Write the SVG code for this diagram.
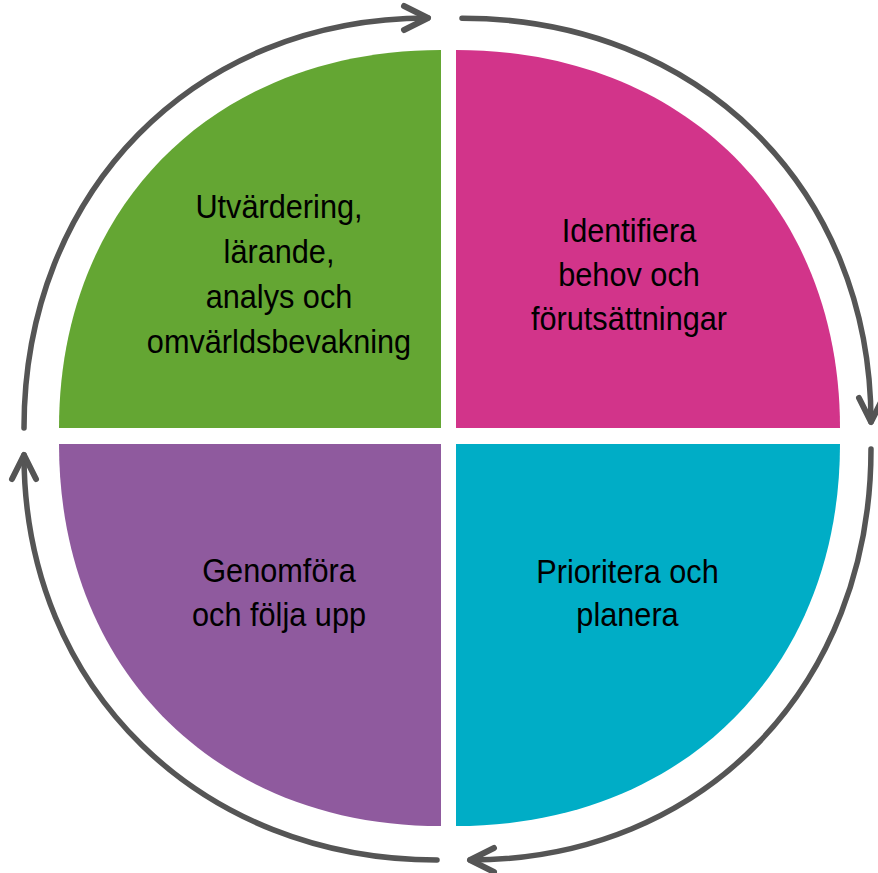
<svg xmlns="http://www.w3.org/2000/svg" width="878" height="873" viewBox="0 0 878 873">
<style>
.lbl{font-family:"Liberation Sans",Arial,sans-serif;font-size:33px;fill:#000;text-anchor:middle}
.arc{fill:none;stroke:#555555;stroke-width:5.5;stroke-linecap:round;stroke-linejoin:round}
</style>
<defs>
<marker id="head" markerUnits="userSpaceOnUse" markerWidth="60" markerHeight="60" viewBox="-30 -30 60 60" refX="0" refY="0" orient="auto" overflow="visible">
<path d="M-24,-12 L0,0 L-24,12" fill="none" stroke="#555555" stroke-width="6" stroke-linecap="round" stroke-linejoin="round"/>
</marker>
</defs>
<rect width="878" height="873" fill="#fff"/>
<g id="q-green">
<path d="M441,428 L59,428 C59,205 216,50 441,50 Z" fill="#64A633"/>
<text class="lbl" transform="translate(279 0) scale(0.93 1)"><tspan x="0" y="218">Utvärdering,</tspan><tspan x="0" y="263">lärande,</tspan><tspan x="0" y="308">analys och</tspan><tspan x="0" y="353">omvärldsbevakning</tspan></text>
</g>
<g id="q-magenta">
<path d="M456,428 L456,50 C682,50 840,205 840,428 Z" fill="#D2348A"/>
<text class="lbl" transform="translate(629 0) scale(0.93 1)"><tspan x="0" y="242">Identifiera</tspan><tspan x="0" y="286">behov och</tspan><tspan x="0" y="330">förutsättningar</tspan></text>
</g>
<g id="q-cyan">
<path d="M456,444 L840,444 C840,669 682,826 456,826 Z" fill="#00ADC6"/>
<text class="lbl" transform="translate(627.5 0) scale(0.93 1)"><tspan x="0" y="583">Prioritera och</tspan><tspan x="0" y="626">planera</tspan></text>
</g>
<g id="q-purple">
<path d="M441,444 L441,826 C216,826 59,669 59,444 Z" fill="#8F5A9E"/>
<text class="lbl" transform="translate(279 0) scale(0.93 1)"><tspan x="0" y="582">Genomföra</tspan><tspan x="0" y="626">och följa upp</tspan></text>
</g>
<g id="connectors">
<path class="arc" d="M462,18.2 C698,18.2 871,188 871,422" marker-end="url(#head)"/>
<path class="arc" d="M871,449 C871,685 704,860 470,860" marker-end="url(#head)"/>
<path class="arc" d="M437,860 C201,860 24,689 24,455" marker-end="url(#head)"/>
<path class="arc" d="M24,428 C24,192 194,18 428,18" marker-end="url(#head)"/>
</g>
</svg>
